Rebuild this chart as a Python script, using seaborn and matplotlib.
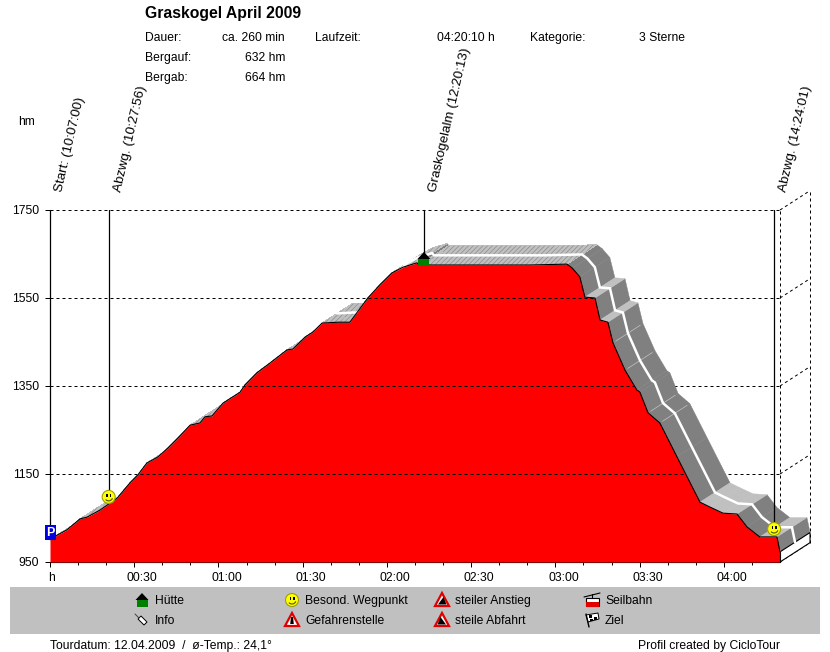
import matplotlib
matplotlib.use("Agg")
import matplotlib.pyplot as plt
from matplotlib.patches import Circle, Polygon, Rectangle, Arc
from matplotlib.path import Path
from matplotlib.transforms import ScaledTranslation
import pandas as pd
import seaborn as sns

# profile (minutes since start, height in hm)
minutes = [0, 2.5, 6, 10.7, 13.2, 17.8, 23.9, 28.5, 31.3, 34.5, 38.5, 42, 45.6, 49.9, 53.4, 55.2, 57.7,
           61.6, 67.7, 69.4, 73.7, 78.3, 84.4, 86.5, 90.8, 93.7, 96.9, 102.6, 106.8, 113.2, 117.5, 121.8,
           125.7, 130.7, 131.4, 133.2, 170.9, 184.1, 186, 188.7, 190.5, 194.1, 195.9, 198.7,
           200.5, 204.8, 209, 210.1, 213, 217.2, 223.3, 231.5, 235, 239.7, 244.7, 248.2, 252.8, 258.9, 260]
heights = [1000, 1011, 1023, 1048, 1052, 1068, 1095, 1130, 1148, 1175, 1189, 1209, 1232, 1261, 1266, 1280, 1282,
           1311, 1336, 1352, 1380, 1402, 1432, 1434, 1461, 1473, 1493, 1495, 1495, 1550, 1580, 1607,
           1620, 1630, 1625, 1625, 1625, 1627, 1618, 1598, 1552, 1550, 1500, 1495,
           1448, 1386, 1341, 1336, 1289, 1266, 1189, 1086, 1075, 1061, 1059, 1030, 1007, 1007, 973]

y_ticks = [950, 1150, 1350, 1550, 1750]
x_major = [0, 30, 60, 90, 120, 150, 180, 210, 240]
x_labels = ["h", "00:30", "01:00", "01:30", "02:00", "02:30", "03:00", "03:30", "04:00"]
x_minor = [10, 20, 40, 50, 70, 80, 100, 110, 130, 140, 160, 170, 190, 200, 220, 230, 250]

way_minutes = [0, 20.9, 133.2, 257.9]
way_heights = [1016, 1098, 1625, 1025]
way_labels = ["Start: (10:07:00)", "Abzwg. (10:27:56)", "Graskogelalm (12:20:13)", "Abzwg. (14:24:01)"]

DEPTH_X = 10.7
DEPTH_Y = 44
FS = 8.75

sns.set_theme(style="white")
plt.rcParams["font.family"] = ["Liberation Sans", "DejaVu Sans"]
plt.rcParams["hatch.linewidth"] = 0.5

df = pd.DataFrame({"minutes": minutes, "height": heights})

fig = plt.figure(figsize=(8.3, 6.52), dpi=100)
fig.patch.set_facecolor("white")
ax = fig.add_axes([50 / 830, 1 - 562 / 652, 730 / 830, 352 / 652])
ax.set_xlim(0, 260)
ax.set_ylim(950, 1750)
ax.patch.set_alpha(0)

dash = (0, (3, 3))

# back wall + grid
for h in y_ticks[1:]:
    ax.plot([0, 260], [h, h], color="black", lw=0.72, ls=dash, zorder=1)
for h in y_ticks:
    ax.plot([260, 260 + DEPTH_X], [h, h + DEPTH_Y], color="black", lw=0.72, ls=dash, zorder=1, clip_on=False)
ax.plot([260, 260], [950, 1750], color="black", lw=0.72, ls=dash, zorder=1, clip_on=False)
ax.plot([260 + DEPTH_X] * 2, [950 + DEPTH_Y, 1750 + DEPTH_Y], color="black", lw=0.72, ls=dash, zorder=1, clip_on=False)

# 3d ribbon behind the profile
for i in range(len(minutes) - 1):
    t0, t1 = minutes[i], minutes[i + 1]
    h0, h1 = heights[i], heights[i + 1]
    quad_x = [t0, t1, t1 + DEPTH_X, t0 + DEPTH_X]
    quad_y = [h0, h1, h1 + DEPTH_Y, h0 + DEPTH_Y]
    slope = (h1 - h0) / (t1 - t0)
    if slope < -4:
        ax.fill(quad_x, quad_y, facecolor="#808080", edgecolor="#808080", lw=0.3, zorder=2, clip_on=False)
    elif t0 < 185:
        ax.fill(quad_x, quad_y, facecolor="#c0c0c0", edgecolor="#8c8c8c", hatch="///////", lw=0,
                zorder=2.1, clip_on=False, antialiased=False)
    else:
        ax.fill(quad_x, quad_y, facecolor="#c0c0c0", edgecolor="#c0c0c0", lw=0.3, zorder=2.1, clip_on=False)

# a few thin light seams on the descent
for i, t in enumerate(minutes):
    if t in (200.5, 204.8, 213, 217.2):
        ax.plot([t + 1, t + DEPTH_X - 1], [heights[i] + 4, heights[i] + DEPTH_Y - 4],
                color="#c0c0c0", lw=0.5, zorder=2.2, clip_on=False)

# end face of the ribbon
ax.fill([260, 260 + DEPTH_X, 260 + DEPTH_X, 260], [950, 950 + DEPTH_Y, heights[-1] + DEPTH_Y, heights[-1]],
        facecolor="white", edgecolor="black", lw=0.8, zorder=2.3, clip_on=False)

# white centre line on the ribbon
first = [i for i, t in enumerate(minutes) if t >= 96][0]
ax.plot([t + DEPTH_X / 2 for t in minutes[first:]], [h + DEPTH_Y / 2 for h in heights[first:]],
        color="white", lw=1.8, zorder=2.5, clip_on=False, solid_joinstyle="miter")

# profile
ax.fill_between(minutes, heights, 950, color="#ff0000", lw=0, zorder=3)
sns.lineplot(data=df, x="minutes", y="height", color="black", lw=0.8, ax=ax, zorder=3.2, sort=False, errorbar=None)
ax.plot([260, 260], [heights[-1], 950], color="black", lw=0.8, zorder=3.2, clip_on=False)

# grid shows through the red area
outline = Path(list(zip(minutes + [260, 0], heights + [950, 950])))
for h in y_ticks[1:]:
    line, = ax.plot([0, 260], [h, h], color="black", lw=0.72, ls=dash, zorder=3.4)
    line.set_clip_path(outline, ax.transData)

ax.set_xlabel("")
ax.set_ylabel("")
ax.set_xticks(x_major)
ax.set_xticklabels(x_labels)
ax.set_xticks(x_minor, minor=True)
ax.set_yticks(y_ticks)
ax.tick_params(axis="x", which="major", length=3.5, width=0.72, color="black", pad=4, labelsize=FS, labelcolor="black", bottom=True)
ax.tick_params(axis="x", which="minor", length=2, width=0.72, color="black", bottom=True)
ax.tick_params(axis="y", which="major", length=3.6, width=0.72, color="black", pad=4.2, labelsize=FS, labelcolor="black", left=True)
for i, lab in enumerate(ax.get_xticklabels()):
    shift = 1 if i == 0 else 8
    lab.set_transform(lab.get_transform() + ScaledTranslation(shift / 100, 0, fig.dpi_scale_trans))
for name, spine in ax.spines.items():
    spine.set_visible(name == "bottom")
ax.spines["bottom"].set_color("black")
ax.spines["bottom"].set_linewidth(0.8)

# waypoint stems
for t, h in zip(way_minutes, way_heights):
    ax.plot([t, t], [h, 1750], color="black", lw=0.9, zorder=4, clip_on=False)

# overlay in pixel units for header, legend strip and icons
ov = fig.add_axes([0, 0, 1, 1], zorder=5)
ov.set_xlim(0, 830)
ov.set_ylim(652, 0)
ov.axis("off")
ov.patch.set_alpha(0)


def to_px(t, h):
    x, y = ax.transData.transform((t, h))
    return x, 652 - y


def txt(x, y, s, ha="left", **kw):
    kw.setdefault("fontsize", FS)
    ov.text(x, y + 0.8, s, ha=ha, va="center", color="black", **kw)


def smiley(x, y):
    ov.add_patch(Circle((x, y), 6.5, facecolor="#ffff00", edgecolor="#a0a000", lw=0.8))
    ov.add_patch(Rectangle((x - 2.5, y - 3), 1.6, 3, color="black", lw=0))
    ov.add_patch(Rectangle((x + 0.9, y - 3), 1.6, 3, color="black", lw=0))
    ov.add_patch(Arc((x, y), 8, 8, theta1=20, theta2=140, color="#505000", lw=0.8))


def hut(x, y):
    ov.add_patch(Polygon([(x - 6.5, y), (x, y - 7), (x + 6.5, y)], color="black", lw=0))
    ov.add_patch(Rectangle((x - 5.5, y), 11, 7, color="#008000", lw=0))


def warn(x, y, kind):
    ov.add_patch(Polygon([(x - 7, y + 6), (x, y - 7), (x + 7, y + 6)], facecolor="white", edgecolor="#e00000", lw=1.6))
    if kind == "up":
        ov.add_patch(Polygon([(x - 4, y + 4.5), (x + 1.5, y - 3), (x + 4.5, y + 4.5)], color="black", lw=0))
    elif kind == "down":
        ov.add_patch(Polygon([(x - 4.5, y + 4.5), (x - 1.5, y - 3), (x + 4, y + 4.5)], color="black", lw=0))
    else:
        ov.add_patch(Polygon([(x - 1, y - 3), (x + 1, y - 3), (x + 1.8, y + 4), (x - 1.8, y + 4)], color="black", lw=0))


def pin(x, y):
    ov.plot([x - 7, x - 3], [y - 6, y - 2], color="#404040", lw=0.7)
    ov.add_patch(Polygon([(x - 4, y - 1), (x - 1, y - 4), (x + 5, y + 2), (x + 2, y + 5)],
                         facecolor="white", edgecolor="black", lw=0.7))


def cable(x, y):
    ov.plot([x - 8, x + 8], [y - 3, y - 7], color="black", lw=0.8)
    ov.plot([x, x], [y - 6, y - 2], color="black", lw=0.8)
    ov.add_patch(Rectangle((x - 6.5, y - 2), 13, 8, facecolor="white", edgecolor="black", lw=0.8))
    ov.add_patch(Rectangle((x - 6.5, y + 2), 13, 4.5, color="#e00000", lw=0))


def flag(x, y):
    ov.plot([x - 6, x - 3], [y - 6, y + 7], color="black", lw=1)
    ov.add_patch(Polygon([(x - 6, y - 5), (x + 6, y - 7), (x + 7, y - 1), (x - 4, y + 2)], facecolor="white", edgecolor="black", lw=0.7))
    ov.add_patch(Rectangle((x - 3, y - 5), 3, 3, color="black", lw=0))
    ov.add_patch(Rectangle((x + 2, y - 3), 3, 3, color="black", lw=0))
    ov.add_patch(Rectangle((x - 2, y - 1), 3, 2, color="black", lw=0))


# header
txt(145, 13, "Graskogel April 2009", fontsize=11.3, fontweight="bold")
txt(145, 37, "Dauer:")
txt(285, 37, "ca. 260 min", ha="right")
txt(315, 37, "Laufzeit:")
txt(495, 37, "04:20:10 h", ha="right")
txt(530, 37, "Kategorie:")
txt(639, 37, "3 Sterne")
txt(145, 57, "Bergauf:")
txt(285, 57, "632 hm", ha="right")
txt(145, 77, "Bergab:")
txt(285, 77, "664 hm", ha="right")
txt(18, 121, "hm")

# rotated waypoint labels
for t, s in zip(way_minutes, way_labels):
    x, _ = to_px(t, 1750)
    ov.text(x + 9, 192, s, rotation=77, rotation_mode="anchor", ha="left", va="center", fontsize=9.6, color="black")

# markers on the profile
px, py = to_px(way_minutes[0], way_heights[0])
ov.add_patch(Rectangle((px - 5.5, py - 7.5), 11, 15, color="#0000e0", lw=0))
ov.text(px, py, "P", ha="center", va="center", color="white", fontsize=9, fontweight="bold")
smiley(*to_px(way_minutes[1], way_heights[1]))
hx, hy = to_px(way_minutes[2], way_heights[2])
hut(hx, hy - 6)
smiley(*to_px(way_minutes[3], way_heights[3]))

# legend strip
ov.add_patch(Rectangle((10, 587), 810, 47, color="#c0c0c0", lw=0, zorder=0))
hut(142, 600)
pin(142, 620)
smiley(292, 600)
warn(292, 620, "bang")
warn(442, 600, "up")
warn(442, 620, "down")
cable(592, 600)
flag(592, 620)
txt(155, 600, "Hütte")
txt(155, 620, "Info")
txt(305, 600, "Besond. Wegpunkt")
txt(305, 620, "Gefahrenstelle")
txt(455, 600, "steiler Anstieg")
txt(455, 620, "steile Abfahrt")
txt(605, 600, "Seilbahn")
txt(605, 620, "Ziel")

# footer
txt(50, 645, "Tourdatum: 12.04.2009  /  ø-Temp.: 24,1°")
txt(780, 645, "Profil created by CicloTour", ha="right")

fig.savefig("out.png", dpi=100)
